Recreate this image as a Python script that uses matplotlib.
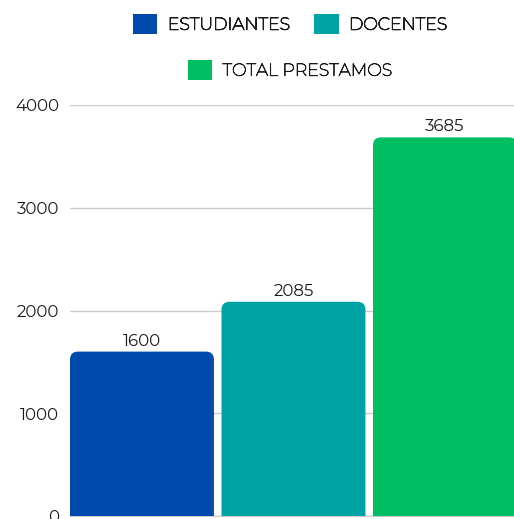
import matplotlib.pyplot as plt
import matplotlib.patheffects as pe
from matplotlib.patches import FancyBboxPatch, Patch

categories = ["ESTUDIANTES", "DOCENTES", "TOTAL PRESTAMOS"]
values = [1600, 2085, 3685]
colors = ["#004AAD", "#00A3A3", "#00BF63"]
yticks = [0, 1000, 2000, 3000, 4000]

plt.rcParams["font.family"] = ["Montserrat Alternates", "DejaVu Sans"]

fig = plt.figure(figsize=(5.14, 5.19), dpi=100)
ax_w = 2.95 * 151.5
ax = fig.add_axes([70 / 514, 3 / 519, ax_w / 514, 411 / 519])

x = list(range(len(values)))
width = 0.95
ax.set_xlim(-0.475, 2.475)
ax.set_ylim(0, 4000)

# rounded tops: mutation_aspect converts x-units to y-units
px_x = 2.95 / ax_w
px_y = 4000 / 411
for xi, v, c in zip(x, values, colors):
    p = FancyBboxPatch((xi - width / 2, -2000), width, v + 2000,
                       boxstyle="round,pad=0,rounding_size=%f" % (8 * px_x),
                       mutation_aspect=px_y / px_x,
                       facecolor=c, edgecolor="none", zorder=3)
    ax.add_patch(p)
    ax.text(xi, v + 30, str(v), ha="center", va="bottom", fontsize=12,
            color="#1a1a1a", zorder=4)

ax.set_yticks(yticks)
ax.set_xticks([])
ax.yaxis.grid(True, color="#cccccc", linewidth=1)
ax.set_axisbelow(True)
for s in ["top", "right", "left"]:
    ax.spines[s].set_visible(False)
ax.spines["bottom"].set_color("#cccccc")
ax.tick_params(axis="y", length=0, pad=8, labelsize=12, labelcolor="#1a1a1a")

handles = [Patch(facecolor=c, label=l) for c, l in zip(colors, categories)]
leg_kw = dict(frameon=False, handlelength=1.4, handleheight=1.4, handletextpad=0.6,
              labelcolor="#1a1a1a", prop={"family": ["Montserrat", "DejaVu Sans"], "size": 12.5})
leg1 = fig.legend(handles=handles[:2], loc="center", bbox_to_anchor=(290 / 514, 1 - 24 / 519),
                  ncol=2, columnspacing=1.4, **leg_kw)
leg2 = fig.legend(handles=handles[2:], loc="center", bbox_to_anchor=(290 / 514, 1 - 70 / 519),
                  **leg_kw)
fig.add_artist(leg1)
# the installed Montserrat is the thin instance, thicken it a little
for leg in (leg1, leg2):
    for t in leg.get_texts():
        t.set_path_effects([pe.withStroke(linewidth=0.55, foreground="#1a1a1a")])

fig.savefig("out.png", dpi=100)
